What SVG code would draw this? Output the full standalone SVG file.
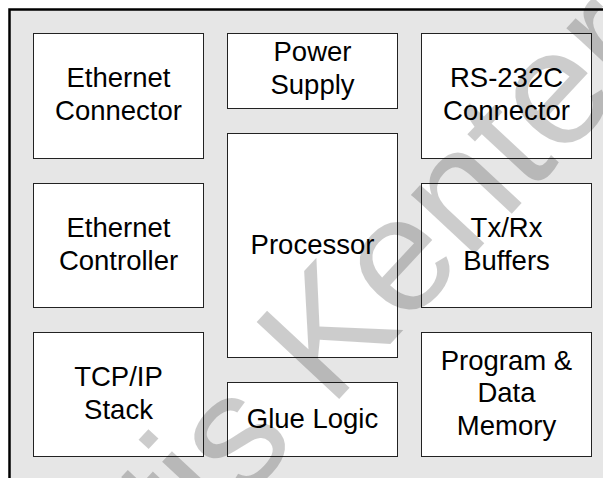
<svg xmlns="http://www.w3.org/2000/svg" width="603" height="478" viewBox="0 0 603 478">
  <style>
    .frame { fill: #e6e6e6; stroke: #000; stroke-width: 2.5; }
    .block { fill: #fff; stroke: #222; stroke-width: 1; }
    .label { font-family: "Liberation Sans", Arial, sans-serif; font-size: 27.5px; fill: #000; text-anchor: middle; }
    .mark { font-family: "Liberation Sans", Arial, sans-serif; font-size: 164px; fill: #000; fill-opacity: 0.2; }
  </style>
  <rect x="0" y="0" width="603" height="478" fill="#fff"/>
  <!-- enclosure -->
  <rect class="frame" x="9.5" y="9.5" width="640" height="520"/>

  <g id="ethernet-connector">
    <rect class="block" x="33.5" y="33.5" width="170" height="125"/>
    <text class="label" x="118.5" y="87">Ethernet</text>
    <text class="label" x="118.5" y="120">Connector</text>
  </g>
  <g id="power-supply">
    <rect class="block" x="227.5" y="33.5" width="170" height="75"/>
    <text class="label" x="312.5" y="61">Power</text>
    <text class="label" x="312.5" y="94">Supply</text>
  </g>
  <g id="rs232c-connector">
    <rect class="block" x="421.5" y="33.5" width="170" height="125"/>
    <text class="label" x="506.5" y="87">RS-232C</text>
    <text class="label" x="506.5" y="120">Connector</text>
  </g>
  <g id="ethernet-controller">
    <rect class="block" x="33.5" y="183.5" width="170" height="124"/>
    <text class="label" x="118.5" y="237">Ethernet</text>
    <text class="label" x="118.5" y="270">Controller</text>
  </g>
  <g id="processor">
    <rect class="block" x="227.5" y="133.5" width="170" height="224"/>
    <text class="label" x="312.5" y="254">Processor</text>
  </g>
  <g id="txrx-buffers">
    <rect class="block" x="421.5" y="183.5" width="170" height="124"/>
    <text class="label" x="506.5" y="237">Tx/Rx</text>
    <text class="label" x="506.5" y="270">Buffers</text>
  </g>
  <g id="tcpip-stack">
    <rect class="block" x="33.5" y="332.5" width="170" height="124"/>
    <text class="label" x="118.5" y="386">TCP/IP</text>
    <text class="label" x="118.5" y="419">Stack</text>
  </g>
  <g id="glue-logic">
    <rect class="block" x="227.5" y="382.5" width="170" height="74"/>
    <text class="label" x="312.5" y="428">Glue Logic</text>
  </g>
  <g id="program-data-memory">
    <rect class="block" x="421.5" y="332.5" width="170" height="124"/>
    <text class="label" x="506.5" y="370">Program &amp;</text>
    <text class="label" x="506.5" y="402">Data</text>
    <text class="label" x="506.5" y="435">Memory</text>
  </g>

  <!-- diagonal overprint -->
  <text class="mark" transform="translate(187,562) rotate(-47)">tis Kenter</text>
</svg>
